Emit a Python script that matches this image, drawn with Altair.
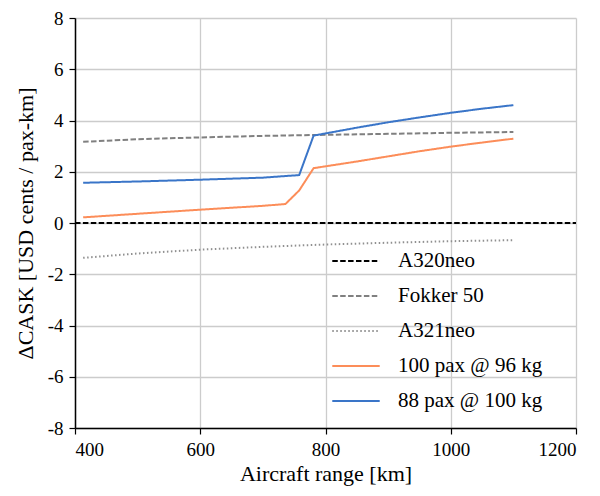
import altair as alt
import pandas as pd

series_names = ["A320neo", "Fokker 50", "A321neo", "100 pax @ 96 kg", "88 pax @ 100 kg"]
series_colors = ["#000000", "#808080", "#909090", "#fc8d59", "#3a75c8"]
series_dashes = [[5.5, 2.4], [5.5, 2.4], [1.5, 2.5], [1, 0], [1, 0]]

a320_x = [400, 1200]
a320_y = [0, 0]

fokker_x = [413, 500, 600, 700, 800, 900, 1000, 1100]
fokker_y = [3.17, 3.27, 3.34, 3.40, 3.44, 3.48, 3.52, 3.55]

a321_x = [413, 500, 600, 700, 800, 900, 1000, 1100]
a321_y = [-1.36, -1.19, -1.04, -0.93, -0.84, -0.77, -0.71, -0.67]

pax100_x = [413, 500, 600, 700, 736, 758, 781, 850, 900, 950, 1000, 1050, 1100]
pax100_y = [0.22, 0.36, 0.52, 0.67, 0.74, 1.27, 2.14, 2.40, 2.60, 2.80, 2.98, 3.14, 3.29]

pax88_x = [413, 500, 600, 700, 758, 781, 850, 900, 950, 1000, 1050, 1100]
pax88_y = [1.57, 1.62, 1.69, 1.77, 1.87, 3.41, 3.72, 3.93, 4.12, 4.30, 4.46, 4.60]

rows = []
for name, xs, ys in [
    ("A320neo", a320_x, a320_y),
    ("Fokker 50", fokker_x, fokker_y),
    ("A321neo", a321_x, a321_y),
    ("100 pax @ 96 kg", pax100_x, pax100_y),
    ("88 pax @ 100 kg", pax88_x, pax88_y),
]:
    for i, (x, y) in enumerate(zip(xs, ys)):
        rows.append({"series": name, "range": x, "dcask": y, "order": i})
df = pd.DataFrame(rows)

FONT = "Liberation Serif, Tinos, Noto Serif, DejaVu Serif, serif"

chart = (
    alt.Chart(df)
    .mark_line(strokeWidth=2)
    .encode(
        x=alt.X(
            "range:Q",
            scale=alt.Scale(domain=[400, 1200], nice=False),
            axis=alt.Axis(values=[400, 600, 800, 1000, 1200], title="Aircraft range [km]",
                          labelExpr="'' + datum.value", labelPadding=6, titlePadding=4),
        ),
        y=alt.Y(
            "dcask:Q",
            scale=alt.Scale(domain=[-8, 8], nice=False),
            axis=alt.Axis(
                values=[-8, -6, -4, -2, 0, 2, 4, 6, 8],
                title="ΔCASK [USD cents / pax-km]",
                labelExpr="datum.value < 0 ? '-' + abs(datum.value) : '' + datum.value",
                labelPadding=6,
                titlePadding=10,
            ),
        ),
        color=alt.Color(
            "series:N",
            scale=alt.Scale(domain=series_names, range=series_colors),
            legend=alt.Legend(
                title=None,
                orient="none",
                legendX=256,
                legendY=218,
                symbolType="stroke",
                symbolSize=2250,
                symbolStrokeWidth=2,
                labelFont=FONT,
                labelFontSize=21,
                labelColor="#000000",
                rowPadding=-15,
                labelOffset=17,
                padding=0,
            ),
        ),
        strokeDash=alt.StrokeDash(
            "series:N",
            scale=alt.Scale(domain=series_names, range=series_dashes),
            legend=None,
        ),
        order="order:Q",
        detail="series:N",
    )
    .properties(
        width=501,
        height=410,
        autosize=alt.AutoSizeParams(type="none"),
        padding={"left": 67, "top": 10, "right": 16, "bottom": 60},
    )
    .configure(font=FONT)
    .configure_view(stroke=None)
    .configure_axis(
        labelFont=FONT,
        titleFont=FONT,
        labelFontSize=19,
        titleFontSize=22,
        labelColor="#000000",
        titleColor="#000000",
        titleFontWeight="normal",
        domainColor="#000000",
        domainWidth=1.5,
        tickColor="#000000",
        tickSize=6,
        tickWidth=1.2,
        gridColor="#cccccc",
        gridWidth=1.3,
    )
)

chart.save("out.html", embed_options={"renderer": "svg", "actions": False})
